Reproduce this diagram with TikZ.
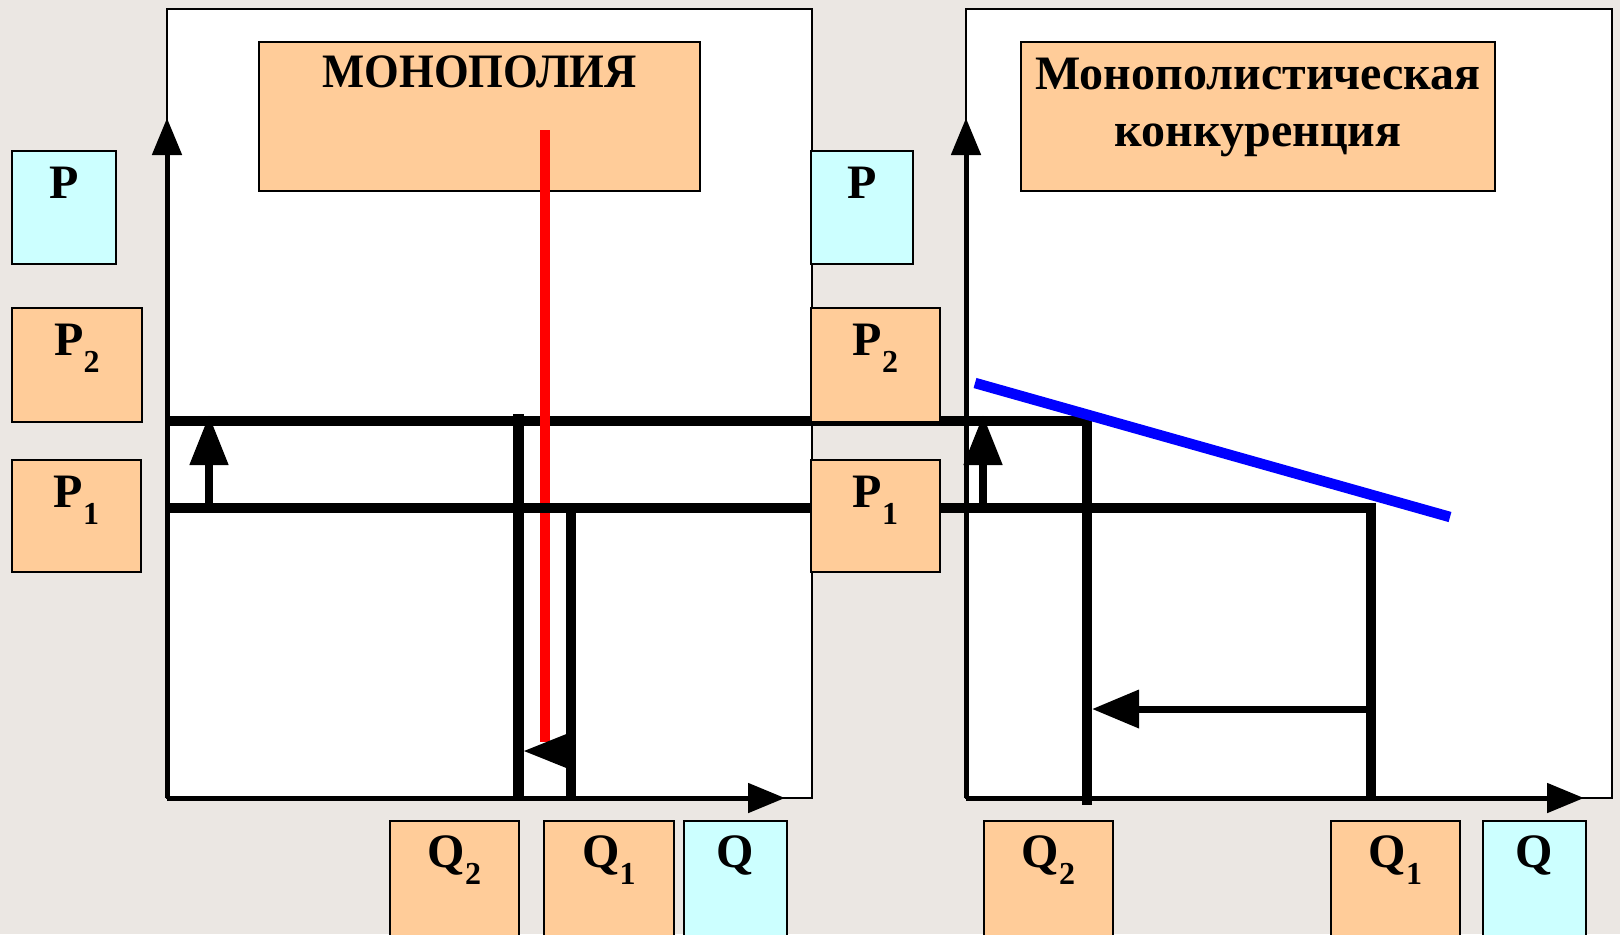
\documentclass[tikz,border=0pt]{standalone}
\usepackage{fontspec}
\setmainfont{Liberation Serif}
\usetikzlibrary{arrows.meta}
\definecolor{bgc}{RGB}{235,231,227}
\definecolor{peach}{RGB}{255,204,153}
\definecolor{cyanb}{RGB}{204,255,255}
\definecolor{redl}{RGB}{255,0,0}
\definecolor{bluel}{RGB}{0,0,255}
\newcommand\subl[2]{#1\raisebox{-8.5pt}{\fontsize{16}{16}\selectfont #2}}
\begin{document}
\begin{tikzpicture}[x=0.5pt,y=-0.5pt,
  panel/.style={draw=black,line width=1pt,fill=white},
  lblbox/.style={draw=black,line width=1pt,anchor=north west,inner sep=0pt,outer sep=0pt},
  pbox/.style={lblbox,fill=peach},
  cbox/.style={lblbox,fill=cyanb},
  lbltext/.style={font=\fontsize{24}{24}\selectfont\bfseries,inner sep=0pt,anchor=base},
  titletext/.style={font=\fontsize{24}{28.5}\selectfont\bfseries,inner sep=0pt,anchor=base,align=center},
  axis/.style={line width=2.5pt,-{Triangle[length=18.5pt,width=14.5pt]}},
  hline/.style={line width=5.25pt,miter limit=10},
  vline/.style={line width=5pt},
  uparrow/.style={line width=4pt,-{Triangle[length=25pt,width=18.5pt]}},
  smallarrow/.style={line width=1pt,-{Triangle[length=21.5pt,width=17pt]}},
  leftarrow/.style={line width=3.5pt,-{Triangle[length=23.5pt,width=18.5pt]}},
]
\useasboundingbox (0,0) rectangle (1620,934);
\clip (0,0) rectangle (1620,934);
\fill[bgc] (0,0) rectangle (1620,934);

% panels
\draw[panel] (167,9) rectangle (812,798);
\draw[panel] (966,9) rectangle (1612,798);

% title boxes
\node[pbox,minimum width=220.5pt,minimum height=74.5pt] (tL) at (259,42) {};
\node[pbox,minimum width=237pt,minimum height=74.5pt] (tR) at (1021,42) {};
\node[titletext] (tLt) at ([yshift=-22.5pt]tL.north) {\scalebox{0.93}[1]{МОНОПОЛИЯ}};
\node[titletext] (tRt) at ([yshift=-52pt]tR.north) {Монополистическая\\конкуренция};

% key coordinates
\coordinate (oL) at (167,798);
\coordinate (yL) at (167,118);
\coordinate (xL) at (785,798);
\coordinate (oR) at (966,798);
\coordinate (yR) at (966,118);
\coordinate (xR) at (1584,798);
\coordinate (p2a) at (167,421);
\coordinate (p2b) at (1087,421);
\coordinate (q2Rb) at (1087,805);
\coordinate (p1a) at (167,508);
\coordinate (p1b) at (1371,508);
\coordinate (q1Rb) at (1371,798);
\coordinate (q2La) at (518.5,414);
\coordinate (q2Lb) at (518.5,798);
\coordinate (q1La) at (571,508);
\coordinate (q1Lb) at (571,798);
\coordinate (ra) at (545,130);
\coordinate (rb) at (545,742);
\coordinate (ba) at (975,383);
\coordinate (bb) at (1450,517);

% axes
\draw[axis] (oL) -- (yL);
\draw[axis] (oL) -- (xL);
\draw[axis] (oR) -- (yR);
\draw[axis] (oR) -- (xR);

% price / quantity lines
\draw[hline] (p2a) -- (p2b) -- (q2Rb);
\draw[redl,line width=5.25pt] (ra) -- (rb);
\draw[hline,line width=5pt] (p1a) -- (p1b) -- (q1Rb);
\draw[vline,line width=5.5pt] (q2La) -- (q2Lb);
\draw[vline] (q1La) -- (q1Lb);

% arrows
\draw[uparrow] (209,508) -- (209,415);
\draw[uparrow] (983,508) -- (983,415);
\draw[smallarrow] (q1La |- 0,751) -- (524,751);
\draw[leftarrow] (1371,709) -- (1092,709);

% demand line
\draw[bluel,line width=5.25pt] (ba) -- (bb);

% label boxes
\node[cbox,minimum width=52pt,minimum height=56.5pt] (pL) at (12,151) {};
\node[pbox,minimum width=65pt,minimum height=57pt] (p2L) at (12,308) {};
\node[pbox,minimum width=64.5pt,minimum height=56pt] (p1L) at (12,460) {};
\node[cbox,minimum width=51pt,minimum height=56.5pt] (pR) at (811,151) {};
\node[pbox,minimum width=64.5pt,minimum height=57pt] (p2R) at (811,308) {};
\node[pbox,minimum width=64.5pt,minimum height=56pt] (p1R) at (811,460) {};
\node[pbox,minimum width=64.5pt,minimum height=65pt] (q2L) at (390,821) {};
\node[pbox,minimum width=65pt,minimum height=65pt] (q1L) at (544,821) {};
\node[cbox,minimum width=51.5pt,minimum height=65pt] (qL) at (684,821) {};
\node[pbox,minimum width=64.5pt,minimum height=65pt] (q2R) at (984,821) {};
\node[pbox,minimum width=64.5pt,minimum height=65pt] (q1R) at (1331,821) {};
\node[cbox,minimum width=51.5pt,minimum height=65pt] (qR) at (1483,821) {};

\node[lbltext] (pLt) at ([yshift=-23.5pt]pL.north) {P};
\node[lbltext] (p2Lt) at ([yshift=-23.5pt]p2L.north) {\subl{P}{2}};
\node[lbltext] (p1Lt) at ([yshift=-23.5pt]p1L.north) {\subl{P}{1}};
\node[lbltext] (pRt) at ([yshift=-23.5pt]pR.north) {P};
\node[lbltext] (p2Rt) at ([yshift=-23.5pt]p2R.north) {\subl{P}{2}};
\node[lbltext] (p1Rt) at ([yshift=-23.5pt]p1R.north) {\subl{P}{1}};
\node[lbltext] (q2Lt) at ([yshift=-23pt]q2L.north) {\subl{Q}{2}};
\node[lbltext] (q1Lt) at ([yshift=-23pt]q1L.north) {\subl{Q}{1}};
\node[lbltext] (qLt) at ([yshift=-23pt]qL.north) {Q};
\node[lbltext] (q2Rt) at ([yshift=-23pt]q2R.north) {\subl{Q}{2}};
\node[lbltext] (q1Rt) at ([yshift=-23pt]q1R.north) {\subl{Q}{1}};
\node[lbltext] (qRt) at ([yshift=-23pt]qR.north) {Q};
\end{tikzpicture}
\end{document}
